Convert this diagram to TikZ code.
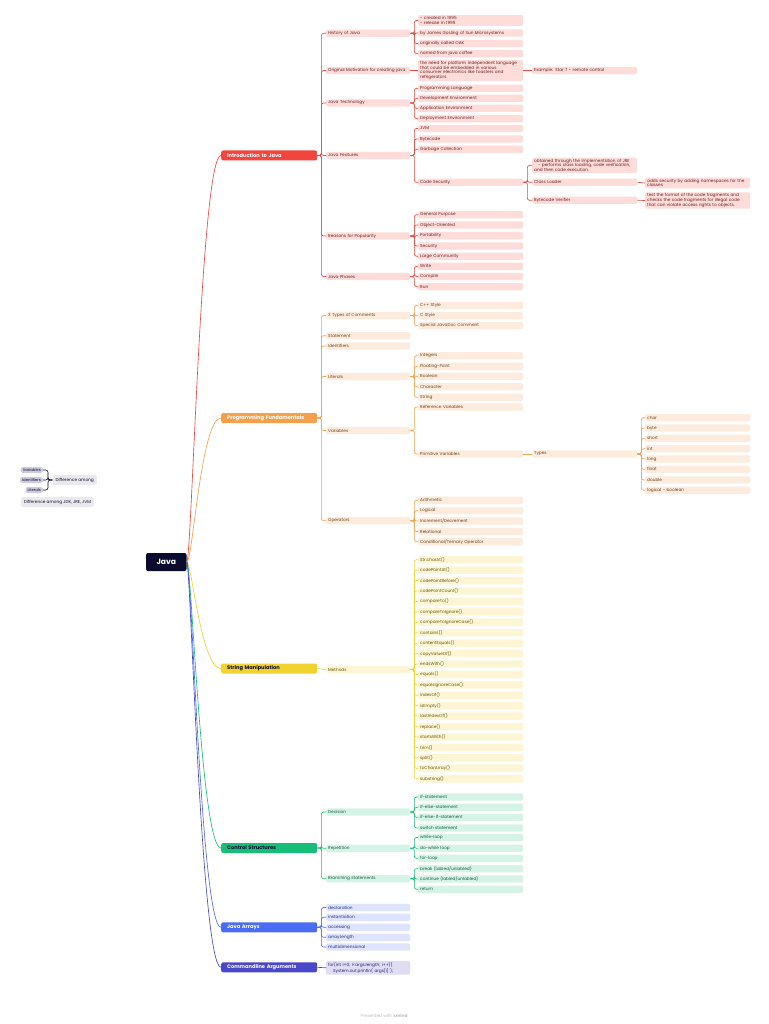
\documentclass[tikz,border=0pt]{standalone}
\usepackage{fontspec}
\setmainfont{Poppins}
\definecolor{rLine}{HTML}{F2453D}
\definecolor{rFill}{HTML}{FDDCDA}
\definecolor{rText}{HTML}{6E1F1B}
\definecolor{oLine}{HTML}{F5A14C}
\definecolor{oFill}{HTML}{FDECDD}
\definecolor{oText}{HTML}{6B3F1A}
\definecolor{yLine}{HTML}{F2D22E}
\definecolor{yFill}{HTML}{FDF5D3}
\definecolor{yText}{HTML}{665510}
\definecolor{gLine}{HTML}{17BE78}
\definecolor{gFill}{HTML}{D5F3E6}
\definecolor{gText}{HTML}{0F5E3C}
\definecolor{bLine}{HTML}{4A6CF5}
\definecolor{bFill}{HTML}{DEE4FD}
\definecolor{bText}{HTML}{1D2D78}
\definecolor{iLine}{HTML}{4A47C8}
\definecolor{iFill}{HTML}{DEDDF3}
\definecolor{iText}{HTML}{24226A}
\definecolor{navy}{HTML}{0B0B2E}
\definecolor{gFloat}{HTML}{E9E9EE}
\definecolor{gFloatD}{HTML}{CBCCDD}
\definecolor{credit}{HTML}{BDBDBD}
\begin{document}
\begin{tikzpicture}[x=1pt,y=-1pt,
  nb/.style={rounded corners=1.6, inner xsep=2, inner ysep=1.3, align=left, anchor=west, minimum height=7.4, font=\fontsize{4.25}{4.75}\selectfont},
  w2/.style={nb, text width=80},
  w3/.style={nb, text width=101},
  L1/.style={rounded corners=2, anchor=west, text width=84, inner xsep=6, inner ysep=0, minimum height=10, align=left, text=white, font=\fontsize{5.1}{6}\selectfont\bfseries},
  cn/.style={rounded corners=2.2, line width=0.65},
  rb/.style={fill=rFill, text=rText},
  ob/.style={fill=oFill, text=oText},
  yb/.style={fill=yFill, text=yText},
  gb/.style={fill=gFill, text=gText},
  bb/.style={fill=bFill, text=bText},
  ib/.style={fill=iFill, text=iText},
  fl/.style={rounded corners=1.6, inner xsep=2, inner ysep=1.3, minimum height=6, fill=gFloatD, text=navy, font=\fontsize{3.8}{4.4}\selectfont},
  fb/.style={rounded corners=1.6, inner xsep=3, inner ysep=1.3, minimum height=10, fill=gFloat, text=navy, font=\fontsize{4.25}{4.75}\selectfont}
]
\useasboundingbox (0,0) rectangle (768,1024);
\fill[white] (0,0) rectangle (768,1024);

% ---------- root ----------
\node[fill=navy, text=white, rounded corners=2, minimum width=40.5, minimum height=18, font=\fontsize{7.6}{9}\selectfont\bfseries] (java) at (166.3,562) {Java};

% ---------- level 1 ----------
\node[L1, fill=rLine] (intro) at (221,155.5) {Introduction to Java};
\node[L1, fill=oLine] (fund) at (221,418) {Programming Fundamentals};
\node[L1, fill=yLine, text=navy] (str) at (221,668.5) {String Manipulation};
\node[L1, fill=gLine, text=navy] (ctrl) at (221,848) {Control Structures};
\node[L1, fill=bLine] (arr) at (221,927.3) {Java Arrays};
\node[L1, fill=iLine] (cmd) at (221,967.3) {Commandline Arguments};

\draw[cn,rLine] (java.east) .. controls +(5,0) and +(-20,0) .. (intro.west);
\draw[cn,oLine] (java.east) .. controls +(6,0) and +(-20,0) .. (fund.west);
\draw[cn,yLine] (java.east) .. controls +(5,0) and +(-20,0) .. (str.west);
\draw[cn,gLine] (java.east) .. controls +(5,0) and +(-20,0) .. (ctrl.west);
\draw[cn,bLine] (java.east) .. controls +(5,0) and +(-20,0) .. (arr.west);
\draw[cn,iLine] (java.east) .. controls +(4,0) and +(-20,0) .. (cmd.west);

% ---------- Introduction to Java ----------
\node[w2,rb] (hist) at (326,33.3) {History of Java};
\node[w2,rb] (motiv) at (326,70.5) {Original Motivation for creating java};
\node[w2,rb] (tech) at (326,103) {Java Technology};
\node[w2,rb] (feat) at (326,155.5) {Java Features};
\node[w2,rb] (pop) at (326,236) {Reasons for Popularity};
\node[w2,rb] (phase) at (326,276.5) {Java Phases};
\foreach \c in {hist,motiv,tech,feat,pop,phase} \draw[cn,rLine] (intro.east) -- ++(4,0) |- (\c.west);

\node[w3,rb] (h1) at (418,20.5) {- created in 1995\\- release in 1995};
\node[w3,rb] (h2) at (418,33) {by James Gosling of Sun Microsystems};
\node[w3,rb] (h3) at (418,43.5) {originally called OAK};
\node[w3,rb] (h4) at (418,53.7) {named from java coffee};
\foreach \c in {h1,h2,h3,h4} \draw[cn,rLine] (hist.east) -- ++(4,0) |- (\c.west);

\node[w3,rb] (m1) at (418,70.5) {the need for platform independent language\\that could be embedded in various\\consumer electronics like toasters and\\refrigerators};
\node[w3,rb] (m2) at (532,70.5) {Example: Star 7 - remote control};
\draw[cn,rLine] (motiv.east) -- (m1.west);
\draw[cn,rLine] (m1.east) -- (m2.west);

\node[w3,rb] (t1) at (418,88.3) {Programming Language};
\node[w3,rb] (t2) at (418,98.3) {Development Environment};
\node[w3,rb] (t3) at (418,108.3) {Application Environment};
\node[w3,rb] (t4) at (418,118.7) {Deployment Environment};
\foreach \c in {t1,t2,t3,t4} \draw[cn,rLine] (tech.east) -- ++(4,0) |- (\c.west);

\node[w3,rb] (f1) at (418,128.5) {JVM};
\node[w3,rb] (f2) at (418,139) {Bytecode};
\node[w3,rb] (f3) at (418,149.3) {Garbage Collection};
\node[w3,rb] (f4) at (418,182.3) {Code Security};
\foreach \c in {f1,f2,f3,f4} \draw[cn,rLine] (feat.east) -- ++(4,0) |- (\c.west);

\node[w3,rb] (cs1) at (532,165.3) {obtained through the implementation of JRE\\\hspace*{4pt}- performs class loading, code verification,\\and then code execution.};
\node[w3,rb] (cs2) at (532,182.3) {Class Loader};
\node[w3,rb] (cs3) at (532,200.3) {Bytecode Verifier};
\foreach \c in {cs1,cs2,cs3} \draw[cn,rLine] (f4.east) -- ++(4,0) |- (\c.west);
\node[w3,rb] (cl1) at (645,183) {adds security by adding namespaces for the\\classes};
\node[w3,rb] (bv1) at (645,200.5) {test the format of the code fragments and\\checks the code fragments for illegal code\\that can violate access rights to objects.};
\draw[cn,rLine] (cs2.east) -- (cl1.west);
\draw[cn,rLine] (cs3.east) -- (bv1.west);

\node[w3,rb] (p1) at (418,214.7) {General Purpose};
\node[w3,rb] (p2) at (418,225) {Object-Oriented};
\node[w3,rb] (p3) at (418,235.7) {Portability};
\node[w3,rb] (p4) at (418,246) {Security};
\node[w3,rb] (p5) at (418,256.3) {Large Community};
\foreach \c in {p1,p2,p3,p4,p5} \draw[cn,rLine] (pop.east) -- ++(4,0) |- (\c.west);

\node[w3,rb] (ph1) at (418,266.3) {Write};
\node[w3,rb] (ph2) at (418,276.5) {Compile};
\node[w3,rb] (ph3) at (418,286.7) {Run};
\foreach \c in {ph1,ph2,ph3} \draw[cn,rLine] (phase.east) -- ++(4,0) |- (\c.west);

% ---------- Programming Fundamentals ----------
\node[w2,ob] (com) at (326,315.5) {3 Types of Comments};
\node[w2,ob] (stmt) at (326,335.7) {Statement};
\node[w2,ob] (idf) at (326,346) {Identifiers};
\node[w2,ob] (lit) at (326,376.5) {Literals};
\node[w2,ob] (var) at (326,430.5) {Variables};
\node[w2,ob] (ops) at (326,520.7) {Operators};
\foreach \c in {com,stmt,idf,lit,var,ops} \draw[cn,oLine] (fund.east) -- ++(4,0) |- (\c.west);

\node[w3,ob] (c1) at (418,305.3) {C++ Style};
\node[w3,ob] (c2) at (418,315.7) {C Style};
\node[w3,ob] (c3) at (418,325.7) {Special JavaDoc Comment};
\foreach \c in {c1,c2,c3} \draw[cn,oLine] (com.east) -- ++(4,0) |- (\c.west);

\node[w3,ob] (l1) at (418,355.7) {Integers};
\node[w3,ob] (l2) at (418,366.3) {Floating-Point};
\node[w3,ob] (l3) at (418,376.3) {Boolean};
\node[w3,ob] (l4) at (418,386.7) {Character};
\node[w3,ob] (l5) at (418,397.3) {String};
\foreach \c in {l1,l2,l3,l4,l5} \draw[cn,oLine] (lit.east) -- ++(4,0) |- (\c.west);

\node[w3,ob] (v1) at (418,407) {Reference Variables};
\node[w3,ob] (v2) at (418,454) {Primitive Variables};
\foreach \c in {v1,v2} \draw[cn,oLine] (var.east) -- ++(4,0) |- (\c.west);
\node[w3,ob] (types) at (532,454) {Types};
\draw[cn,oLine] (v2.east) -- (types.west);
\node[w3,ob] (ty1) at (645,417.7) {char};
\node[w3,ob] (ty2) at (645,428) {byte};
\node[w3,ob] (ty3) at (645,438.3) {short};
\node[w3,ob] (ty4) at (645,448.7) {int};
\node[w3,ob] (ty5) at (645,459) {long};
\node[w3,ob] (ty6) at (645,469.3) {float};
\node[w3,ob] (ty7) at (645,480) {double};
\node[w3,ob] (ty8) at (645,490.3) {logical - boolean};
\foreach \c in {ty1,ty2,ty3,ty4,ty5,ty6,ty7,ty8} \draw[cn,oLine] (types.east) -- ++(4,0) |- (\c.west);

\node[w3,ob] (o1) at (418,500.3) {Arithmetic};
\node[w3,ob] (o2) at (418,510.7) {Logical};
\node[w3,ob] (o3) at (418,521) {Increment/Decrement};
\node[w3,ob] (o4) at (418,531.5) {Relational};
\node[w3,ob] (o5) at (418,541.7) {Conditional/Ternary Operator};
\foreach \c in {o1,o2,o3,o4,o5} \draw[cn,oLine] (ops.east) -- ++(4,0) |- (\c.west);

% ---------- String Manipulation ----------
\node[w2,yb] (meth) at (326,669.5) {Methods};
\draw[cn,yLine] (str.east) -- (meth.west);
\foreach \t [count=\i from 0] in {Str.charAt(),codePointAt(),codePointBefore(),codePointCount(),compareTo(),compareToIgnore(),compareToIgnoreCase(),contains(),contentEquals(),copyValueOf(),endsWith(),equals(),equalsIgnoreCase(),indexOf(),isEmpty(),lastIndexOf(),replace(),startsWith(),trim(),split(),toCharArray(),substring()} {
  \node[w3,yb] (s\i) at (418,{559.7+10.43*\i}) {\t};
  \draw[cn,yLine] (meth.east) -- ++(4,0) |- (s\i.west);
}

% ---------- Control Structures ----------
\node[w2,gb] (dec) at (326,812) {Decision};
\node[w2,gb] (rep) at (326,848.3) {Repetition};
\node[w2,gb] (brn) at (326,878.7) {Branching statements};
\foreach \c in {dec,rep,brn} \draw[cn,gLine] (ctrl.east) -- ++(4,0) |- (\c.west);
\node[w3,gb] (d1) at (418,797) {if-statement};
\node[w3,gb] (d2) at (418,807.3) {if-else-statement};
\node[w3,gb] (d3) at (418,817.3) {if-else-if-statement};
\node[w3,gb] (d4) at (418,828) {switch statement};
\foreach \c in {d1,d2,d3,d4} \draw[cn,gLine] (dec.east) -- ++(4,0) |- (\c.west);
\node[w3,gb] (r1) at (418,837.5) {while-loop};
\node[w3,gb] (r2) at (418,848.3) {do-while loop};
\node[w3,gb] (r3) at (418,858.3) {for-loop};
\foreach \c in {r1,r2,r3} \draw[cn,gLine] (rep.east) -- ++(4,0) |- (\c.west);
\node[w3,gb] (b1) at (418,868.7) {break (labled/unlabled)};
\node[w3,gb] (b2) at (418,879) {continue (labled/unlabled)};
\node[w3,gb] (b3) at (418,889.2) {return};
\foreach \c in {b1,b2,b3} \draw[cn,gLine] (brn.east) -- ++(4,0) |- (\c.west);

% ---------- Java Arrays ----------
\node[w2,bb] (a1) at (326,907.5) {declaration};
\node[w2,bb] (a2) at (326,917.3) {instantiation};
\node[w2,bb] (a3) at (326,927.3) {accessing};
\node[w2,bb] (a4) at (326,937.3) {array.length};
\node[w2,bb] (a5) at (326,947) {multidimensional};
\foreach \c in {a1,a2,a3,a4,a5} \draw[cn,bLine] (arr.east) -- ++(4,0) |- (\c.west);

% ---------- Commandline Arguments ----------
\node[w2,ib] (cm1) at (326,967.8) {for(int i=0; i<args.length; i++)\{\\\hspace*{5pt}System.out.println( args[i] );};
\draw[cn,iLine] (cmd.east) -- (cm1.west);

% ---------- floating topics ----------
\node[fl, anchor=east] (fv) at (43,470) {Variables};
\node[fl, anchor=east] (fi) at (43,480) {Identifiers};
\node[fl, anchor=east] (fli) at (43,490) {Literals};
\node[fb, anchor=west] (fd) at (52.3,480) {Difference among};
\foreach \c in {fv,fi,fli} \draw[cn,navy,line width=0.6] (\c.east) -- ++(5,0) |- (fd.west);
\node[fb, anchor=west] (fj) at (20.7,502.2) {Difference among JDK, JRE, JVM};

% ---------- credit ----------
\node[text=credit, font=\fontsize{4.3}{5}\selectfont] (cr) at (384,1015.5) {Presented with \textbf{xmind}};
\end{tikzpicture}
\end{document}
